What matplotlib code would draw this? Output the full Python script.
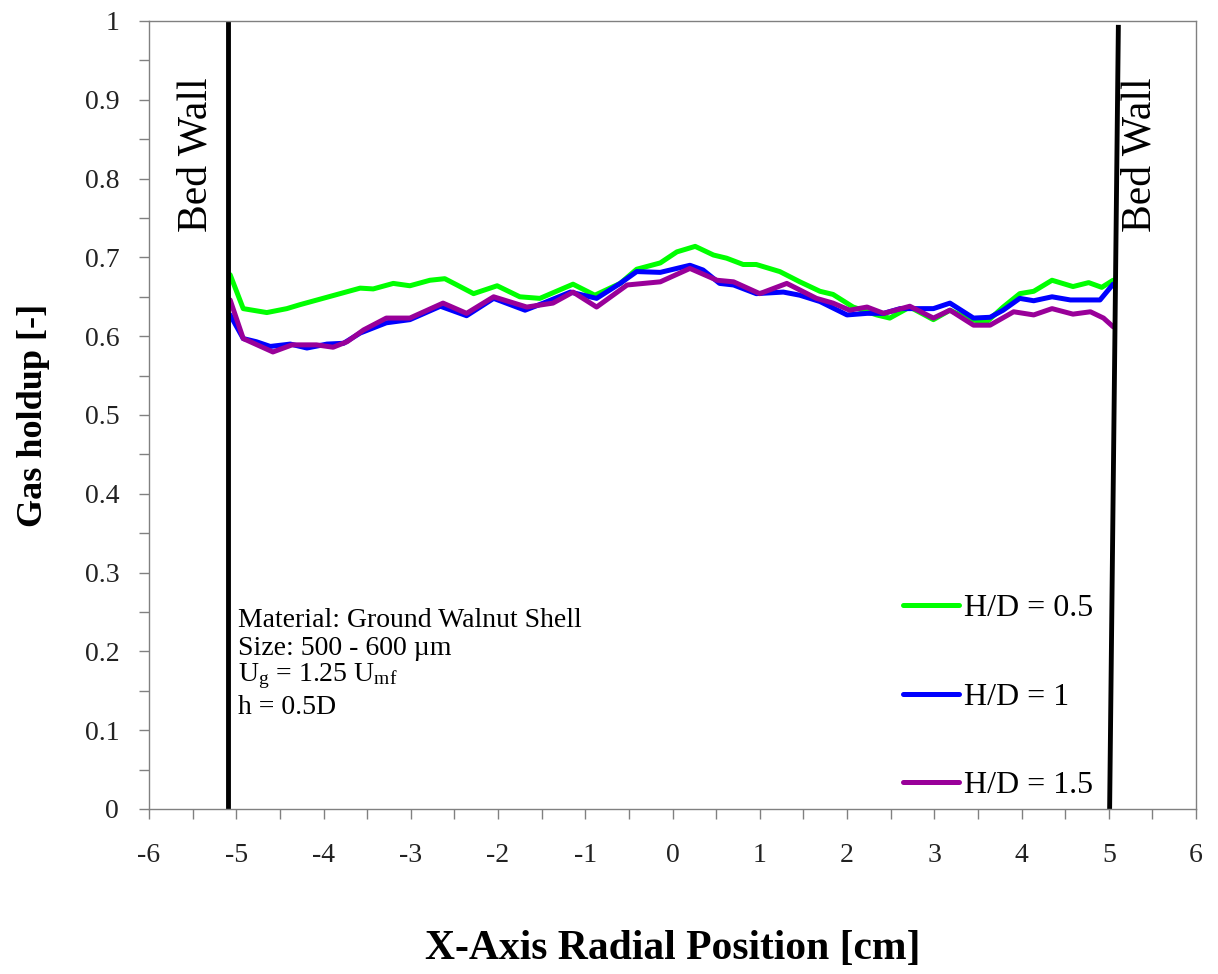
import numpy as np
import matplotlib
matplotlib.use("Agg")
import matplotlib.pyplot as plt
from matplotlib.ticker import MultipleLocator, FormatStrFormatter

plt.rcParams['font.family'] = 'Liberation Serif'
plt.rcParams['mathtext.fontset'] = 'custom'
plt.rcParams['mathtext.rm'] = 'Liberation Serif'
plt.rcParams['mathtext.it'] = 'Liberation Serif:italic'
plt.rcParams['axes.unicode_minus'] = False

# ## Data

x_05 = [-5.07, -4.92, -4.65, -4.42, -4.27, -4.04, -3.81, -3.58, -3.43, -3.20, -3.01, -2.78, -2.61,
        -2.47, -2.28, -2.01, -1.75, -1.52, -1.14, -0.89, -0.60, -0.41, -0.14, 0.05, 0.26, 0.47,
        0.62, 0.81, 0.96, 1.23, 1.46, 1.69, 1.84, 2.07, 2.34, 2.49, 2.72, 2.99, 3.18, 3.41, 3.60,
        3.79, 3.98, 4.14, 4.35, 4.59, 4.77, 4.92, 5.05]
y_05 = [0.678, 0.635, 0.630, 0.635, 0.640, 0.647, 0.654, 0.661, 0.660, 0.667, 0.664, 0.671, 0.673,
        0.665, 0.654, 0.664, 0.650, 0.648, 0.666, 0.652, 0.667, 0.685, 0.693, 0.707, 0.714, 0.703,
        0.699, 0.691, 0.691, 0.682, 0.669, 0.657, 0.653, 0.637, 0.627, 0.623, 0.637, 0.621, 0.633,
        0.621, 0.618, 0.637, 0.654, 0.657, 0.671, 0.663, 0.668, 0.662, 0.671]

x_1 = [-5.07, -4.92, -4.77, -4.61, -4.38, -4.19, -3.96, -3.77, -3.58, -3.28, -3.01, -2.66, -2.36,
       -2.05, -1.69, -1.48, -1.17, -0.87, -0.60, -0.41, -0.14, 0.20, 0.35, 0.54, 0.70, 0.96, 1.27,
       1.46, 1.69, 2.00, 2.23, 2.42, 2.61, 2.99, 3.18, 3.45, 3.64, 3.79, 3.98, 4.14, 4.35, 4.56,
       4.90, 5.05]
y_1 = [0.627, 0.597, 0.593, 0.587, 0.590, 0.585, 0.590, 0.591, 0.604, 0.617, 0.621, 0.638, 0.626,
       0.648, 0.633, 0.642, 0.656, 0.648, 0.667, 0.682, 0.681, 0.690, 0.684, 0.667, 0.665, 0.654,
       0.656, 0.652, 0.644, 0.627, 0.629, 0.629, 0.635, 0.635, 0.642, 0.623, 0.624, 0.633, 0.648,
       0.645, 0.650, 0.646, 0.646, 0.666]

x_15 = [-5.07, -4.92, -4.80, -4.58, -4.36, -4.08, -3.89, -3.73, -3.54, -3.28, -3.01, -2.63, -2.36,
        -2.05, -1.67, -1.37, -1.14, -0.87, -0.52, -0.14, 0.20, 0.51, 0.70, 1.00, 1.31, 1.65, 1.84,
        2.03, 2.23, 2.42, 2.72, 2.99, 3.18, 3.45, 3.64, 3.91, 4.14, 4.35, 4.59, 4.79, 4.94, 5.05]
y_15 = [0.646, 0.597, 0.591, 0.580, 0.589, 0.589, 0.586, 0.593, 0.608, 0.623, 0.623, 0.642, 0.629,
        0.650, 0.637, 0.642, 0.656, 0.637, 0.665, 0.669, 0.686, 0.671, 0.669, 0.654, 0.667, 0.648,
        0.642, 0.633, 0.637, 0.629, 0.638, 0.623, 0.633, 0.614, 0.614, 0.631, 0.627, 0.635, 0.628,
        0.631, 0.623, 0.612]

labels = ['H/D = 0.5', 'H/D = 1', 'H/D = 1.5']
colors = ['#00ff00', '#0000ff', '#990099']

# bed wall lines
wall_left_x = [-5.09, -5.09]
wall_left_y = [0.0, 1.0]
wall_right_x = [5.01, 5.11]
wall_right_y = [0.0, 0.992]

info_lines = ['Material: Ground Walnut Shell',
              'Size: 500 - 600 \u00b5m',
              r'U$_\mathrm{g}$ = 1.25 U$_\mathrm{mf}$',
              'h = 0.5D']

# ## Plot

fig = plt.figure(figsize=(12.18, 9.74), dpi=100)
ax = fig.add_axes([149/1218, 1-809/974, (1196-149)/1218, (809-21)/974])

series = [(x_05, y_05), (x_1, y_1), (x_15, y_15)]
for (xs, ys), lab, c in zip(series, labels, colors):
    ax.plot(xs, ys, color=c, lw=3.6, label=lab, solid_joinstyle='round', solid_capstyle='round')

ax.plot(wall_left_x, wall_left_y, color='black', lw=3.5)
ax.plot(wall_right_x, wall_right_y, color='black', lw=3.5)

ax.set_xlim(-6, 6)
ax.set_ylim(0, 1)
ax.xaxis.set_major_locator(MultipleLocator(1))
ax.xaxis.set_minor_locator(MultipleLocator(0.5))
ax.yaxis.set_major_locator(MultipleLocator(0.1))
ax.yaxis.set_minor_locator(MultipleLocator(0.05))
ax.xaxis.set_major_formatter(FormatStrFormatter('%g'))
ax.yaxis.set_major_formatter(FormatStrFormatter('%g'))

for s in ax.spines.values():
    s.set_color('#808080')
    s.set_linewidth(1)
ax.tick_params(which='both', direction='out', length=7.5, width=1, color='#808080')
ax.tick_params(axis='x', which='major', pad=17, labelsize=20, labelcolor='#222222')
ax.tick_params(axis='y', which='major', pad=14, labelsize=20, labelcolor='#222222')

ax.set_xlabel('X-Axis Radial Position [cm]', fontsize=30, fontweight='bold')
ax.set_ylabel('Gas holdup [-]', fontsize=26, fontweight='bold')
ax.xaxis.set_label_coords(0.5, -0.154)
ax.yaxis.set_label_coords(-0.095, 0.5)

# Bed wall annotations
ax.text(-5.46, 0.83, 'Bed Wall', rotation=90, fontsize=30, ha='center', va='center')
ax.text(5.36, 0.83, 'Bed Wall', rotation=90, fontsize=30, ha='center', va='center')

# Operating conditions
info_y = [0.231, 0.196, 0.162, 0.121]
for t, yy in zip(info_lines, info_y):
    ax.text(-4.98, yy, t, fontsize=20, ha='left', va='baseline')

ax.legend(loc='upper left', bbox_to_anchor=(903/1218, 1-594/974), bbox_transform=fig.transFigure,
          frameon=False, fontsize=23, handlelength=1.75, handletextpad=0.15,
          labelspacing=1.85, borderpad=0, borderaxespad=0)

fig.savefig('out.png', dpi=100)
